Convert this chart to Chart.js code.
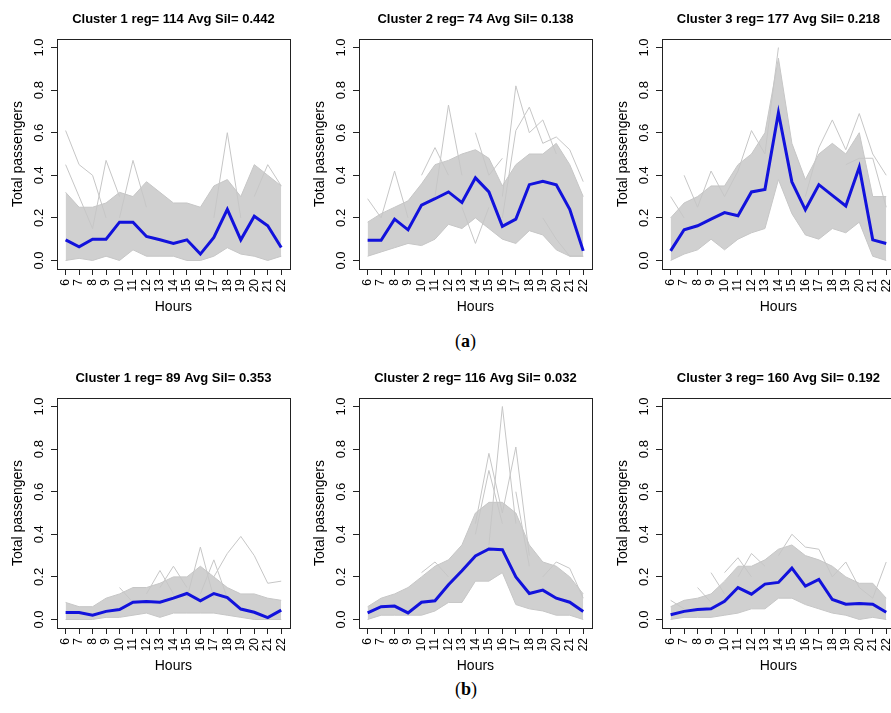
<!DOCTYPE html>
<html>
<head>
<meta charset="utf-8">
<script src="https://cdn.jsdelivr.net/npm/chart.js@4.4.1/dist/chart.umd.min.js"></script>
<style>
  body { margin: 0; background: #fff; width: 891px; height: 713px; overflow: hidden; position: relative; }
  .panel { position: absolute; width: 300px; height: 320px; }
  .cap { position: absolute; font-family: "Liberation Serif", "DejaVu Serif", serif; font-size: 18px; color: #000; }
</style>
</head>
<body>
<div class="panel" style="left:0;top:0"><canvas id="a1" width="300" height="320"></canvas></div>
<div class="panel" style="left:302px;top:0"><canvas id="a2" width="300" height="320"></canvas></div>
<div class="panel" style="left:605px;top:0"><canvas id="a3" width="300" height="320"></canvas></div>
<div class="panel" style="left:0;top:359px"><canvas id="b1" width="300" height="320"></canvas></div>
<div class="panel" style="left:302px;top:359px"><canvas id="b2" width="300" height="320"></canvas></div>
<div class="panel" style="left:605px;top:359px"><canvas id="b3" width="300" height="320"></canvas></div>
<div class="cap" style="left:455px;top:331px">(<b>a</b>)</div>
<div class="cap" style="left:455px;top:679px">(<b>b</b>)</div>

<script>
// hours on the x axis
var hours = [6, 7, 8, 9, 10, 11, 12, 13, 14, 15, 16, 17, 18, 19, 20, 21, 22];
var yTicks = [0, 0.2, 0.4, 0.6, 0.8, 1.0];

var titles = [
  "Cluster 1 reg= 114 Avg Sil= 0.442",
  "Cluster 2 reg= 74 Avg Sil= 0.138",
  "Cluster 3 reg= 177 Avg Sil= 0.218",
  "Cluster 1 reg= 89 Avg Sil= 0.353",
  "Cluster 2 reg= 116 Avg Sil= 0.032",
  "Cluster 3 reg= 160 Avg Sil= 0.192"
];

// (a) cluster 1
var a1Mean  = [0.097, 0.064, 0.100, 0.100, 0.180, 0.180, 0.113, 0.097, 0.080, 0.097, 0.030, 0.108, 0.240, 0.097, 0.208, 0.163, 0.061];
var a1Upper = [0.32, 0.25, 0.25, 0.27, 0.32, 0.30, 0.37, 0.32, 0.27, 0.27, 0.25, 0.35, 0.38, 0.30, 0.45, 0.40, 0.35];
var a1Lower = [0.00, 0.01, 0.00, 0.02, 0.00, 0.05, 0.02, 0.02, 0.02, 0.00, 0.00, 0.02, 0.06, 0.03, 0.02, 0.00, 0.02];
var a1Odd = [
  [0.61, 0.45, 0.40, 0.20, null, null, null, null, null, null, null, null, null, null, null, null, null],
  [0.45, 0.30, 0.15, null, null, null, null, null, null, null, null, null, null, null, null, null, null],
  [null, null, 0.15, 0.47, 0.30, null, null, null, null, null, null, null, null, null, null, null, null],
  [null, null, null, null, 0.20, 0.47, 0.25, null, null, null, null, null, null, null, null, null, null],
  [null, null, null, null, null, null, null, null, null, null, null, 0.20, 0.60, 0.20, null, null, null],
  [null, null, null, null, null, null, null, null, null, null, null, null, null, null, 0.30, 0.45, 0.35]
];

// (a) cluster 2
var a2Mean  = [0.095, 0.095, 0.194, 0.144, 0.260, 0.290, 0.322, 0.272, 0.388, 0.322, 0.160, 0.194, 0.356, 0.372, 0.355, 0.240, 0.045];
var a2Upper = [0.18, 0.22, 0.25, 0.28, 0.36, 0.45, 0.47, 0.50, 0.52, 0.48, 0.35, 0.45, 0.50, 0.50, 0.55, 0.45, 0.30];
var a2Lower = [0.02, 0.04, 0.06, 0.08, 0.07, 0.10, 0.17, 0.15, 0.20, 0.15, 0.10, 0.08, 0.14, 0.12, 0.05, 0.02, 0.02];
var a2Odd = [
  [0.29, 0.20, null, null, null, null, null, null, null, null, null, null, null, null, null, null, null],
  [null, 0.20, 0.42, 0.20, null, null, null, null, null, null, null, null, null, null, null, null, null],
  [null, null, null, null, 0.40, 0.53, 0.40, null, null, null, null, null, null, null, null, null, null],
  [null, null, null, null, null, 0.30, 0.73, 0.40, null, null, null, null, null, null, null, null, null],
  [null, null, null, null, null, null, null, 0.25, 0.08, 0.25, null, null, null, null, null, null, null],
  [null, null, null, null, null, null, null, null, 0.60, 0.40, 0.48, null, null, null, null, null, null],
  [null, null, null, null, null, null, null, null, null, null, 0.30, 0.82, 0.60, 0.66, 0.50, null, null],
  [null, null, null, null, null, null, null, null, null, null, 0.20, 0.61, 0.72, 0.55, 0.58, 0.52, 0.37],
  [null, null, null, null, null, null, null, null, null, null, null, null, null, 0.20, 0.10, 0.02, 0.02]
];

// (a) cluster 3
var a3Mean  = [0.045, 0.144, 0.163, 0.194, 0.225, 0.210, 0.322, 0.334, 0.694, 0.369, 0.238, 0.356, 0.306, 0.256, 0.438, 0.097, 0.080];
var a3Upper = [0.20, 0.27, 0.30, 0.35, 0.35, 0.45, 0.50, 0.60, 0.95, 0.55, 0.38, 0.50, 0.55, 0.50, 0.60, 0.30, 0.30];
var a3Lower = [0.00, 0.03, 0.05, 0.10, 0.05, 0.10, 0.13, 0.15, 0.38, 0.22, 0.12, 0.10, 0.15, 0.13, 0.18, 0.02, 0.00];
var a3Odd = [
  [0.30, 0.20, null, null, null, null, null, null, null, null, null, null, null, null, null, null, null],
  [null, 0.40, 0.25, 0.42, 0.30, 0.42, 0.61, 0.50, 1.00, null, null, null, null, null, null, null, null],
  [null, null, null, null, null, null, null, null, null, null, 0.30, 0.53, 0.66, 0.52, 0.69, 0.50, 0.40],
  [null, null, null, null, null, null, null, null, null, null, null, null, null, 0.45, 0.48, 0.48, 0.25]
];

// (b) cluster 1
var b1Mean  = [0.033, 0.033, 0.020, 0.038, 0.047, 0.081, 0.085, 0.081, 0.100, 0.122, 0.088, 0.122, 0.103, 0.049, 0.034, 0.009, 0.044];
var b1Upper = [0.08, 0.06, 0.06, 0.10, 0.12, 0.15, 0.15, 0.17, 0.20, 0.20, 0.25, 0.20, 0.15, 0.12, 0.12, 0.10, 0.09];
var b1Lower = [0.00, 0.00, 0.00, 0.01, 0.01, 0.02, 0.03, 0.01, 0.03, 0.03, 0.03, 0.03, 0.02, 0.01, 0.00, 0.00, 0.00];
var b1Odd = [
  [null, null, null, null, 0.15, 0.08, null, null, null, null, null, null, null, null, null, null, null],
  [null, null, null, null, null, null, 0.12, 0.23, 0.12, null, null, null, null, null, null, null, null],
  [null, null, null, null, null, null, null, 0.15, 0.25, 0.15, null, null, null, null, null, null, null],
  [null, null, null, null, null, null, null, null, null, 0.10, 0.34, 0.10, null, null, null, null, null],
  [null, null, null, null, null, null, null, null, null, null, 0.12, 0.28, 0.10, null, null, null, null],
  [null, null, null, null, null, null, null, null, null, null, null, 0.20, 0.31, 0.39, 0.30, 0.17, 0.18]
];

// (b) cluster 2
var b2Mean  = [0.031, 0.060, 0.063, 0.031, 0.081, 0.088, 0.163, 0.229, 0.298, 0.331, 0.328, 0.200, 0.122, 0.138, 0.100, 0.081, 0.038];
var b2Upper = [0.06, 0.10, 0.12, 0.15, 0.20, 0.25, 0.28, 0.35, 0.50, 0.55, 0.55, 0.50, 0.35, 0.27, 0.25, 0.20, 0.12];
var b2Lower = [0.00, 0.02, 0.02, 0.02, 0.02, 0.04, 0.08, 0.08, 0.18, 0.18, 0.22, 0.07, 0.05, 0.04, 0.02, 0.02, 0.00];
var b2Odd = [
  [null, null, null, null, 0.22, 0.27, 0.20, null, null, null, null, null, null, null, null, null, null],
  [null, null, null, null, null, null, null, null, 0.40, 0.70, 0.45, null, null, null, null, null, null],
  [null, null, null, null, null, null, null, null, 0.45, 0.78, 0.50, null, null, null, null, null, null],
  [null, null, null, null, null, null, null, null, null, 0.35, 1.00, 0.45, null, null, null, null, null],
  [null, null, null, null, null, null, null, null, null, null, 0.50, 0.81, 0.30, null, null, null, null],
  [null, null, null, null, null, null, null, null, null, null, null, 0.60, 0.25, null, null, null, null],
  [null, null, null, null, null, null, null, null, null, null, null, null, null, 0.20, 0.27, 0.24, 0.10]
];

// (b) cluster 3
var b3Mean  = [0.022, 0.038, 0.047, 0.050, 0.085, 0.150, 0.119, 0.166, 0.174, 0.241, 0.157, 0.188, 0.094, 0.072, 0.075, 0.072, 0.034];
var b3Upper = [0.06, 0.09, 0.10, 0.12, 0.18, 0.25, 0.25, 0.28, 0.33, 0.35, 0.30, 0.28, 0.25, 0.20, 0.17, 0.17, 0.10];
var b3Lower = [0.00, 0.01, 0.01, 0.01, 0.02, 0.03, 0.05, 0.05, 0.10, 0.10, 0.07, 0.05, 0.03, 0.02, 0.00, 0.01, 0.00];
var b3Odd = [
  [0.09, 0.05, null, null, null, null, null, null, null, null, null, null, null, null, null, null, null],
  [null, null, 0.15, 0.08, null, null, null, null, null, null, null, null, null, null, null, null, null],
  [null, null, null, 0.22, 0.12, null, null, null, null, null, null, null, null, null, null, null, null],
  [null, null, null, null, 0.22, 0.29, 0.20, null, null, null, null, null, null, null, null, null, null],
  [null, null, null, null, null, 0.20, 0.31, 0.25, null, null, null, null, null, null, null, null, null],
  [null, null, null, null, null, null, null, null, 0.30, 0.40, 0.34, 0.33, 0.20, null, null, null, null],
  [null, null, null, null, null, null, null, null, null, null, null, null, 0.20, 0.27, 0.15, 0.10, 0.27]
];

var GRAY = "#c6c6c6";
var FONT = "'Liberation Sans', Arial, Helvetica, sans-serif";

function pts(arr) {
  return arr.map(function (v, i) { return { x: hours[i], y: v }; });
}

// box around the plot region, like R's box()
var boxPlugin = {
  id: "box",
  afterDraw: function (chart) {
    var a = chart.chartArea, ctx = chart.ctx;
    ctx.save();
    ctx.strokeStyle = "#222";
    ctx.lineWidth = 1;
    ctx.strokeRect(Math.round(a.left) + 0.5, Math.round(a.top) + 0.5, Math.round(a.right - a.left), Math.round(a.bottom - a.top));
    ctx.restore();
  }
};

function makePanel(id, title, mean, upper, lower, odd) {
  var datasets = [];
  // mean profile (drawn on top)
  datasets.push({ data: pts(mean), borderColor: "#1212dc", borderWidth: 3, pointRadius: 0, fill: false, tension: 0 });
  odd.forEach(function (s) {
    datasets.push({ data: pts(s), borderColor: GRAY, borderWidth: 1, pointRadius: 0, fill: false, spanGaps: false });
  });
  datasets.push({ data: pts(lower), borderColor: GRAY, borderWidth: 1, pointRadius: 0, fill: false });
  datasets.push({ data: pts(upper), borderColor: GRAY, borderWidth: 1, pointRadius: 0, fill: "-1", backgroundColor: "rgba(200,200,200,0.85)" });

  new Chart(document.getElementById(id), {
    type: "line",
    data: { datasets: datasets },
    options: {
      responsive: false,
      animation: false,
      events: [],
      layout: { padding: { left: 0, right: 8, top: 0, bottom: 0 } },
      plugins: {
        legend: { display: false },
        tooltip: { enabled: false },
        title: {
          display: true,
          fullSize: false,
          text: title,
          color: "#000",
          font: { family: FONT, size: 13, weight: "bold" },
          padding: { top: 12, bottom: 11.4 }
        }
      },
      scales: {
        x: {
          type: "linear",
          min: 5.36,
          max: 22.64,
          afterBuildTicks: function (s) { s.ticks = hours.map(function (h) { return { value: h }; }); },
          afterFit: function (s) { s.height = 51; },
          ticks: { autoSkip: false, minRotation: 90, maxRotation: 90, padding: 4, color: "#000", font: { family: FONT, size: 12 } },
          grid: { drawOnChartArea: false, drawTicks: true, tickLength: 6, color: "#222" },
          border: { display: false },
          title: { display: true, text: "Hours", color: "#000", font: { family: FONT, size: 14 }, padding: { top: 0, bottom: 4 } }
        },
        y: {
          min: -0.04,
          max: 1.04,
          afterBuildTicks: function (s) { s.ticks = yTicks.map(function (v) { return { value: v }; }); },
          afterFit: function (s) { s.width = 57; },
          ticks: {
            minRotation: 90, maxRotation: 90, crossAlign: "center", padding: 3, color: "#000",
            font: { family: FONT, size: 13 },
            callback: function (v) { return v.toFixed(1); }
          },
          grid: { drawOnChartArea: false, drawTicks: true, tickLength: 6, color: "#222" },
          border: { display: false },
          title: { display: true, text: "Total passengers", color: "#000", font: { family: FONT, size: 14 }, padding: { top: 10, bottom: 0 } }
        }
      }
    },
    plugins: [boxPlugin]
  });
}

makePanel("a1", titles[0], a1Mean, a1Upper, a1Lower, a1Odd);
makePanel("a2", titles[1], a2Mean, a2Upper, a2Lower, a2Odd);
makePanel("a3", titles[2], a3Mean, a3Upper, a3Lower, a3Odd);
makePanel("b1", titles[3], b1Mean, b1Upper, b1Lower, b1Odd);
makePanel("b2", titles[4], b2Mean, b2Upper, b2Lower, b2Odd);
makePanel("b3", titles[5], b3Mean, b3Upper, b3Lower, b3Odd);
</script>
</body>
</html>
